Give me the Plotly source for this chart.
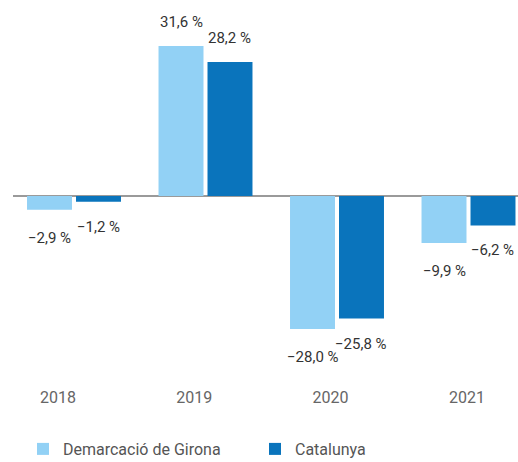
import plotly.graph_objects as go

years = ["2018", "2019", "2020", "2021"]
girona = [-2.9, 31.6, -28.0, -9.9]
catalunya = [-1.2, 28.2, -25.8, -6.2]
series_names = ["Demarcació de Girona", "Catalunya"]
colors = ["#92d1f5", "#0a74bc"]

W, H = 518, 462
ml, mr, mt, mb = 13, 0, 0, 76
plot_w = W - ml - mr
plot_h = H - mt - mb
cat_px = 131.5
bargap = 0.255
bargroupgap = 0.082
zero_px = 196
px_per_unit = 4.75


def fmt(v):
    return f"{v:.1f}".replace(".", ",").replace("-", "\u2212") + " %"


fig = go.Figure()
for name, vals, col in zip(series_names, [girona, catalunya], colors):
    fig.add_trace(go.Bar(x=years, y=vals, name=name, marker_color=col,
                         marker_line_width=0, hoverinfo="skip"))

# tick label axis (labels sit slightly offset from bar groups in the reference)
fig.add_trace(go.Scatter(x=list(range(len(years))), y=[None] * len(years), xaxis="x2",
                         showlegend=False, hoverinfo="skip", mode="markers"))

slot = cat_px * (1 - bargap) / 2
annotations = []
for i, y in enumerate(years):
    for k, vals in enumerate([girona, catalunya]):
        v = vals[i]
        annotations.append(dict(
            x=i, y=v, xref="x", yref="y", text=fmt(v), showarrow=False,
            xshift=(-slot / 2 if k == 0 else slot / 2),
            yshift=(24 if v > 0 else (-28 if k == 0 else -25)),
            font=dict(family="Roboto", size=15, color="#333333"),
        ))

x0 = -61 / cat_px
lab_px = 136.3
lx0 = -45 / lab_px

fig.update_layout(
    width=W, height=H,
    margin=dict(l=ml, r=mr, t=mt, b=mb, autoexpand=False),
    paper_bgcolor="white", plot_bgcolor="white",
    barmode="group", bargap=bargap, bargroupgap=bargroupgap,
    font=dict(family="Roboto", size=15, color="#555555"),
    xaxis=dict(type="category", range=[x0, x0 + plot_w / cat_px], showticklabels=False,
               showgrid=False, zeroline=False, showline=False, ticks=""),
    xaxis2=dict(type="linear", overlaying="x", side="bottom",
                range=[lx0, lx0 + plot_w / lab_px],
                tickmode="array", tickvals=list(range(len(years))), ticktext=years,
                showgrid=False, zeroline=False, showline=False, ticks="",
                tickfont=dict(family="Roboto", size=16, color="#666666")),
    yaxis=dict(range=[-(plot_h - zero_px) / px_per_unit, zero_px / px_per_unit],
               showticklabels=False, showgrid=False, zeroline=True,
               zerolinecolor="#9a9a9a", zerolinewidth=1.5, showline=False, ticks=""),
    showlegend=True,
    legend=dict(orientation="h", x=(23 - ml) / plot_w, xanchor="left",
                y=-63 / plot_h, yanchor="middle",
                entrywidth=187, entrywidthmode="pixels",
                font=dict(family="Roboto", size=16, color="#555555"),
                bgcolor="rgba(0,0,0,0)"),
    annotations=annotations,
)

fig.write_html("out.html", config={"displayModeBar": False},
               post_script="document.body.style.margin='0';document.body.style.overflow='hidden';")
